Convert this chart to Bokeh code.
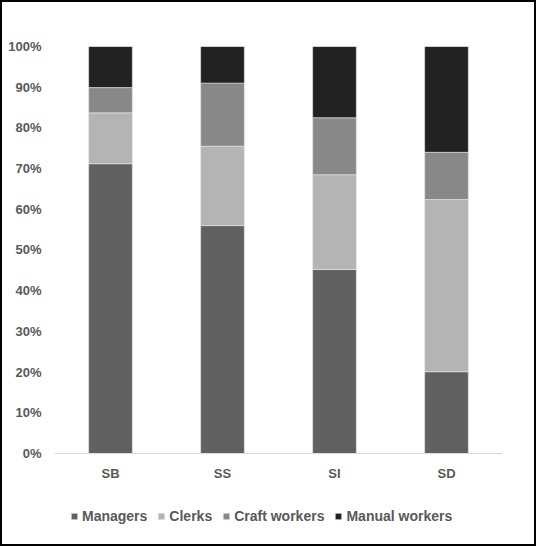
from bokeh.plotting import figure
from bokeh.models import ColumnDataSource, Legend, LegendItem, NumeralTickFormatter, FixedTicker, Range1d, Span
from bokeh.core.properties import value
from bokeh.embed import file_html
from bokeh.resources import INLINE

categories = ["SB", "SS", "SI", "SD"]
series = ["Managers", "Clerks", "Craft workers", "Manual workers"]
managers = [0.712, 0.560, 0.452, 0.201]
clerks = [0.125, 0.195, 0.233, 0.423]
craft = [0.062, 0.155, 0.140, 0.116]
manual = [0.101, 0.090, 0.175, 0.260]
colors = ["#606060", "#b4b4b4", "#888888", "#222222"]
y_ticks = [i / 10 for i in range(11)]

source = ColumnDataSource(dict(cat=categories, Managers=managers, Clerks=clerks,
                               **{"Craft workers": craft, "Manual workers": manual}))

FONT = "Liberation Sans"
# frame extends below the 0% baseline to hold category labels and legend
p = figure(x_range=categories, y_range=Range1d(-0.2236, 1.0),
           frame_width=448, frame_height=498,
           output_backend="svg", toolbar_location=None,
           min_border_left=52, min_border_right=32, min_border_top=44, min_border_bottom=0)
p.styles = {"border": "2px solid #000"}

renderers = p.vbar_stack(series, x="cat", width=0.39, source=source, color=colors,
                         line_color="#e8e8e8", line_width=0.6)

p.xgrid.visible = False
p.ygrid.visible = False
p.outline_line_color = None
p.xaxis.visible = False

# baseline (category axis line)
p.add_layout(Span(location=0, dimension="width", line_color="#d9d9d9", line_width=1))

# category labels
p.text(x=categories, y=[0] * len(categories), text=categories, y_offset=20,
       text_align="center", text_baseline="middle",
       text_font=value(FONT), text_font_size="13px",
       text_font_style="bold", text_color="#595959")

p.yaxis.ticker = FixedTicker(ticks=y_ticks)
p.yaxis.formatter = NumeralTickFormatter(format="0%")
p.yaxis.axis_line_color = None
p.yaxis.major_tick_line_color = None
p.yaxis.minor_tick_line_color = None
p.yaxis.major_label_standoff = 7
p.yaxis.major_label_text_font = FONT
p.yaxis.major_label_text_font_style = "bold"
p.yaxis.major_label_text_font_size = "13px"
p.yaxis.major_label_text_color = "#595959"

legend = Legend(items=[LegendItem(label=s, renderers=[r]) for s, r in zip(series, renderers)],
                orientation="horizontal", location=(16, 20),
                label_text_font=FONT, label_text_font_style="bold",
                label_text_font_size="14px", label_text_color="#595959",
                glyph_width=8, glyph_height=8, spacing=10, label_standoff=4,
                border_line_color=None, background_fill_alpha=0,
                margin=0, padding=0)
p.add_layout(legend, "center")

open("out.html", "w").write(file_html(p, INLINE))
